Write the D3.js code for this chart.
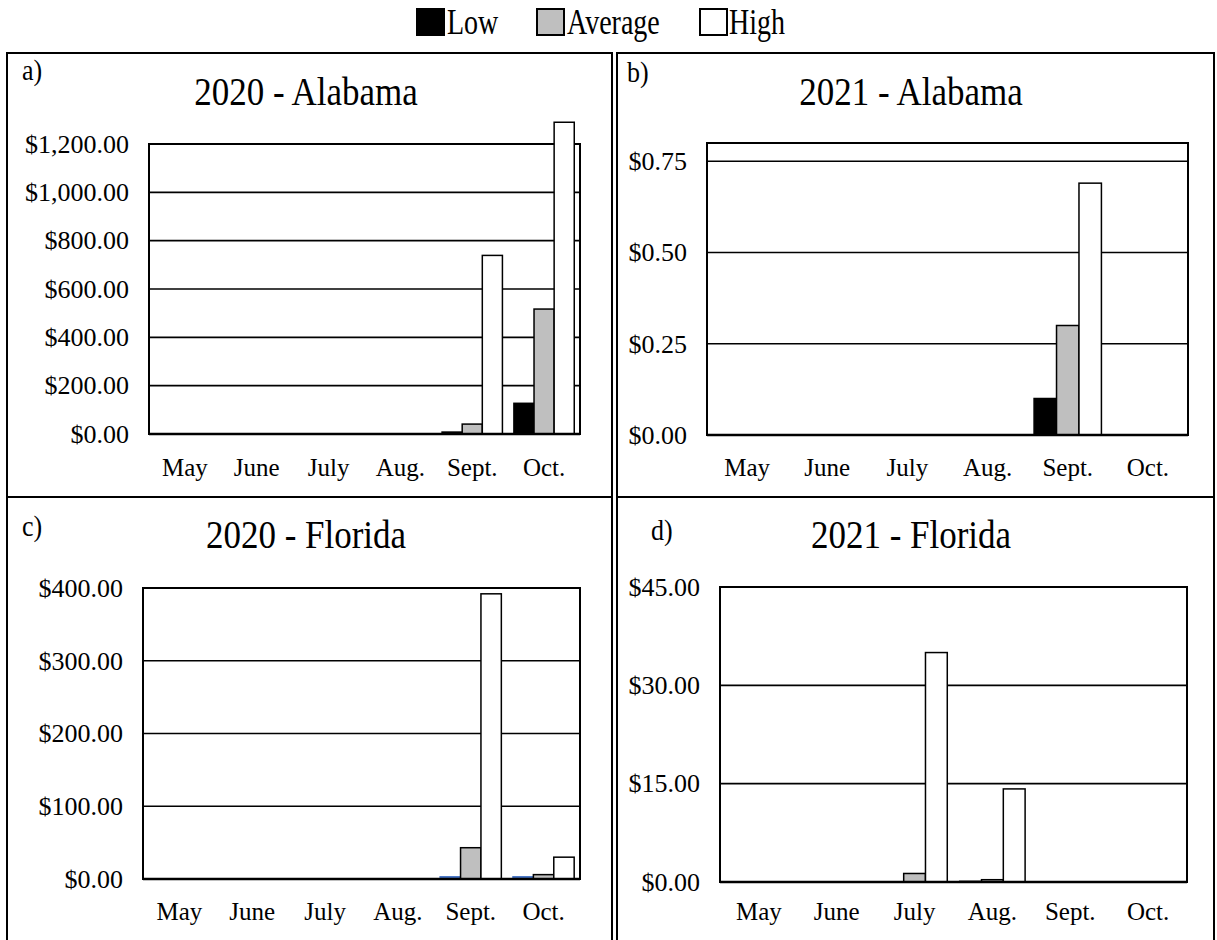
<!DOCTYPE html>
<html><head><meta charset="utf-8">
<script src="https://cdn.jsdelivr.net/npm/d3@7"></script>
<style>
html,body{margin:0;padding:0;background:#fff;}
svg{display:block;}
text{font-family:"Liberation Serif","Times New Roman",serif;fill:#000;}
</style></head>
<body>
<svg id="chart" width="1217" height="940"></svg>
<script>
// ---------------- DATA ----------------
const months = ["May", "June", "July", "Aug.", "Sept.", "Oct."];
const seriesNames = ["Low", "Average", "High"];
const seriesFill = ["#000000", "#bfbfbf", "#ffffff"];

const al2020Low  = [0, 0, 0, 0, 8, 127];
const al2020Avg  = [0, 0, 0, 0, 41, 517];
const al2020High = [0, 0, 0, 0, 739, 1290];
const al2020Ticks = [0, 200, 400, 600, 800, 1000, 1200];

const al2021Low  = [0, 0, 0, 0, 0.10, 0];
const al2021Avg  = [0, 0, 0, 0, 0.30, 0];
const al2021High = [0, 0, 0, 0, 0.69, 0];
const al2021Ticks = [0, 0.25, 0.5, 0.75];

const fl2020Low  = [0, 0, 0, 0, 3, 3];
const fl2020Avg  = [0, 0, 0, 0, 43, 6];
const fl2020High = [0, 0, 0, 0, 392, 30];
const fl2020Ticks = [0, 100, 200, 300, 400];

const fl2021Low  = [0, 0, 0, 0.1, 0, 0];
const fl2021Avg  = [0, 0, 1.3, 0.35, 0, 0];
const fl2021High = [0, 0, 35, 14.2, 0, 0];
const fl2021Ticks = [0, 15, 30, 45];

// ---------------- LAYOUT ----------------
const svg = d3.select("#chart");
const FONT = '"Liberation Serif","Times New Roman",serif';

function stretchedText(g, x, y, str, size, anchor, sy) {
  return g.append("text")
    .attr("transform", `translate(${x},${y}) scale(1,${sy})`)
    .attr("text-anchor", anchor)
    .style("font-size", size + "px")
    .text(str);
}

// Legend
const legend = svg.append("g");
const legendItems = [
  {x: 417, tx: 447},
  {x: 537, tx: 567},
  {x: 700, tx: 729}
];
seriesNames.forEach((s, i) => {
  legend.append("rect").attr("x", legendItems[i].x).attr("y", 9)
    .attr("width", 27).attr("height", 26)
    .attr("fill", seriesFill[i]).attr("stroke", "#000").attr("stroke-width", 2);
  stretchedText(legend, legendItems[i].tx, 34, s, 28, "start", 1.25);
});

// Panel frames
const frames = svg.append("g").attr("fill", "none").attr("stroke", "#000").attr("stroke-width", 2);
frames.append("path").attr("d", "M7,940 V53 H612 V940");
frames.append("path").attr("d", "M617,940 V53 H1214 V940");
frames.append("line").attr("x1", 7).attr("x2", 612).attr("y1", 497).attr("y2", 497);
frames.append("line").attr("x1", 617).attr("x2", 1214).attr("y1", 497).attr("y2", 497);

const panels = [
  {letter: "a)", lx: 22, ly: 80, title: "2020 - Alabama", tx: 306, ty: 105,
   left: 149, right: 580, top: 144, bottom: 434, max: 1200, ticks: al2020Ticks,
   data: [al2020Low, al2020Avg, al2020High], lowFill: "#000000", monthY: 476},
  {letter: "b)", lx: 627, ly: 82, title: "2021 - Alabama", tx: 911, ty: 105,
   left: 707, right: 1188, top: 143, bottom: 435, max: 0.8, ticks: al2021Ticks,
   data: [al2021Low, al2021Avg, al2021High], lowFill: "#000000", monthY: 476},
  {letter: "c)", lx: 22, ly: 536, title: "2020 - Florida", tx: 306, ty: 548,
   left: 143, right: 580, top: 588, bottom: 879, max: 400, ticks: fl2020Ticks,
   data: [fl2020Low, fl2020Avg, fl2020High], lowFill: "#4472c4", monthY: 920},
  {letter: "d)", lx: 651, ly: 540, title: "2021 - Florida", tx: 911, ty: 548,
   left: 720, right: 1187, top: 587, bottom: 882, max: 45, ticks: fl2021Ticks,
   data: [fl2021Low, fl2021Avg, fl2021High], lowFill: "#000000", monthY: 920}
];

const money = d3.format("$,.2f");

panels.forEach(p => {
  const g = svg.append("g");
  stretchedText(g, p.lx, p.ly, p.letter, 26, "start", 1.15);
  stretchedText(g, p.tx, p.ty, p.title, 35, "middle", 1.15);

  const x = d3.scaleBand().domain(months).range([p.left, p.right]).paddingInner(0).paddingOuter(0);
  const y = d3.scaleLinear().domain([0, p.max]).range([p.bottom, p.top]);
  const bw = x.bandwidth() * 0.28;
  const xs = d3.scaleBand().domain(seriesNames).range([-1.5 * bw, 1.5 * bw]).padding(0);

  // gridlines
  g.append("g").selectAll("line").data(p.ticks.filter(t => t > 0)).join("line")
    .attr("x1", p.left).attr("x2", p.right)
    .attr("y1", d => y(d)).attr("y2", d => y(d))
    .attr("stroke", "#000").attr("stroke-width", 1.6);

  // plot border
  g.append("rect").attr("x", p.left).attr("y", p.top)
    .attr("width", p.right - p.left).attr("height", p.bottom - p.top)
    .attr("fill", "none").attr("stroke", "#000").attr("stroke-width", 2);

  // bars
  const bars = [];
  p.data.forEach((arr, si) => {
    arr.forEach((v, mi) => { if (v > 0) bars.push({s: seriesNames[si], si, m: months[mi], v}); });
  });
  g.append("g").selectAll("rect").data(bars).join("rect")
    .attr("x", d => x(d.m) + x.bandwidth() / 2 + xs(d.s))
    .attr("width", xs.bandwidth())
    .attr("y", d => y(d.v))
    .attr("height", d => p.bottom - y(d.v))
    .attr("fill", d => d.si === 0 ? p.lowFill : seriesFill[d.si])
    .attr("stroke", d => (d.si === 0 && p.lowFill !== "#000000") ? p.lowFill : "#000")
    .attr("stroke-width", 1.5);

  // baseline on top
  g.append("line").attr("x1", p.left).attr("x2", p.right)
    .attr("y1", p.bottom).attr("y2", p.bottom)
    .attr("stroke", "#000").attr("stroke-width", 2.5);

  // y axis labels
  const yAxis = d3.axisLeft(y).tickValues(p.ticks).tickFormat(money).tickSize(0).tickPadding(20);
  const ya = g.append("g").attr("transform", `translate(${p.left},0)`).call(yAxis);
  ya.select(".domain").remove();
  ya.selectAll("text").style("font-family", FONT).style("font-size", "26px").attr("fill", "#000");

  // x labels
  const xAxis = d3.axisBottom(x).tickSize(0).tickPadding(0);
  const xa = g.append("g").attr("transform", `translate(0,${p.monthY})`).call(xAxis);
  xa.select(".domain").remove();
  xa.selectAll("text").attr("dy", 0).attr("y", 0).style("font-family", FONT).style("font-size", "25px").attr("fill", "#000");
});
</script>
</body></html>
